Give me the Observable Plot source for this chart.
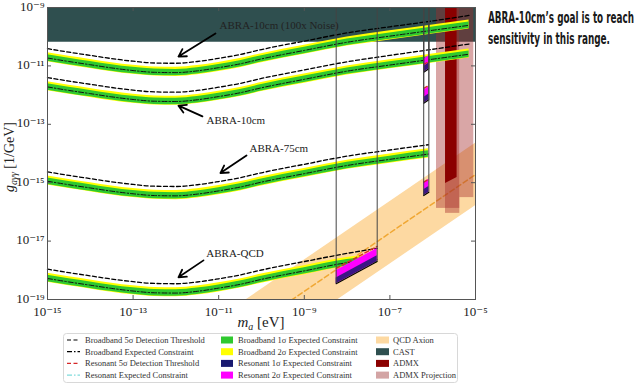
<!DOCTYPE html>
<html><head><meta charset="utf-8">
<script src="https://cdn.jsdelivr.net/npm/d3@7"></script>
<script src="https://cdn.jsdelivr.net/npm/@observablehq/plot@0.6"></script>
<style>
body{margin:0;background:#fff;}
#chart{width:640px;height:389px;}
</style></head><body><div id="chart"></div>
<script>
// ---------- data: log10 values ----------
// axis ticks (exponents)
const xTickExp = [-15, -13, -11, -9, -7, -5];
const yTickExp = [-19, -17, -15, -13, -11, -9];

// broadband curves: log10(m_a / eV) -> log10(g / GeV^-1)
const bbMassLong = [-15, -14.5, -14, -13.5, -13, -12.5, -12, -11.5, -11, -10.5, -10, -9, -8, -7, -6, -5.15];
const bb10cm100xConstraint = [-10.73, -10.85, -10.96, -11.07, -11.16, -11.22, -11.23, -11.17, -11.06, -10.93, -10.76, -10.47, -10.19, -9.98, -9.78, -9.61];
const bb10cm100xThreshold  = [-10.41, -10.53, -10.64, -10.75, -10.84, -10.90, -10.91, -10.85, -10.74, -10.61, -10.44, -10.15, -9.87, -9.66, -9.46, -9.27];
const bb10cmConstraint = [-11.72, -11.84, -11.95, -12.06, -12.15, -12.21, -12.22, -12.16, -12.05, -11.92, -11.75, -11.46, -11.18, -10.97, -10.77, -10.60];
const bb10cmThreshold  = [-11.40, -11.52, -11.63, -11.74, -11.83, -11.89, -11.90, -11.84, -11.73, -11.60, -11.43, -11.14, -10.86, -10.64, -10.43, -10.25];
const bbMass75cm = [-15, -14.5, -14, -13.5, -13, -12.5, -12, -11.5, -11, -10.5, -10, -9, -8, -7, -6.1];
const bb75cmConstraint = [-14.95, -15.07, -15.18, -15.29, -15.38, -15.44, -15.45, -15.39, -15.28, -15.15, -14.98, -14.69, -14.41, -14.20, -14.02];
const bb75cmThreshold  = [-14.63, -14.75, -14.86, -14.97, -15.06, -15.12, -15.13, -15.07, -14.96, -14.83, -14.66, -14.37, -14.09, -13.88, -13.70];
const bbMassQCD = [-15, -14.5, -14, -13.5, -13, -12.5, -12, -11.5, -11, -10.5, -10, -9, -8, -7.3];
const bbQCDConstraint = [-18.28, -18.40, -18.51, -18.62, -18.71, -18.77, -18.78, -18.72, -18.61, -18.48, -18.31, -18.02, -17.74, -17.63];
const bbQCDThreshold  = [-17.96, -18.08, -18.19, -18.30, -18.39, -18.45, -18.46, -18.40, -18.29, -18.16, -17.99, -17.70, -17.42, -17.25];
// band half-widths in decades (below, above)
const band1Sigma = [0.11, 0.11];
const band2Sigma = [0.13, 0.18];

// resonant regions
const resMass10cm = [-6.21, -6.09];
const res10cm100xConstraint = [-11.22, -11.10];
const res10cm100xThreshold  = [-10.95, -10.85];
const res10cmConstraint = [-12.28, -12.16];
const res10cmThreshold  = [-11.77, -11.67];
const res75cmConstraint = [-15.44, -15.33];
const res75cmThreshold  = [-14.98, -14.88];
const resMassQCD = [-8.255, -7.297];
const resQCDConstraint = [-18.46, -17.70];
const resQCDThreshold  = [-17.93, -17.18];
const resBand1Sigma = 0.2;
const resBand2Sigma = 0.45;

// existing limits / targets
const castMass = [-15, -5];
const castLimit = -10.19;
const qcdMass = [-11, -5];
const qcdCenter = [-20.72, -14.72];
const qcdUpper = [-19.65, -13.65];
const qcdLower = [-21.79, -15.79];
const admxMass = [-5.70, -5.43];
const admxLimit = [-15.03, -14.82];
const admxProjMassLo = [-5.911, -5.701, -5.367];
const admxProjMassHi = [-5.367, -5.367, -5.04];
const admxProjLimit = [-15.88, -16.05, -15.51];
const topCoupling = -9;

// annotations
const annLabels = ["ABRA-10cm (100x Noise)", "ABRA-10cm", "ABRA-75cm", "ABRA-QCD"];
const annTextMass = [-10.98, -11.285, -10.28, -11.29];
const annTextCoupling = [-9.62, -12.87, -13.82, -17.42];
const annArrowFromMass = [-11.075, -11.38, -10.35, -11.355];
const annArrowFromCoupling = [-9.89, -12.73, -14.07, -17.66];
const annArrowToMass = [-11.94, -11.94, -10.96, -11.94];
const annArrowToCoupling = [-10.68, -12.36, -14.67, -18.24];

// legend
const legendLineLabels = ["Broadband 5σ Detection Threshold", "Broadband Expected Constraint", "Resonant 5σ Detection Threshold", "Resonant Expected Constraint"];
const legendBandLabels = ["Broadband 1σ Expected Constraint", "Broadband 2σ Expected Constraint", "Resonant 1σ Expected Constraint", "Resonant 2σ Expected Constraint"];
const legendRegionLabels = ["QCD Axion", "CAST", "ADMX", "ADMX Projection"];
const sideNote = ["ABRA-10cm’s goal is to reach", "sensitivity in this range."];

// ---------- styles ----------
const C = {
  green: "#2fc92f", yellow: "#ffff00", navy: "#191970", magenta: "#ff00ff",
  qcd: "#fdd9a2", qcdLine: "#f0a733", cast: "#2f4f4f", admx: "#8b0000", admxProj: "#a52a2a",
  resThr: "#d62728", resExp: "#7fdbdb", frame: "#555"
};
const lineStyles = [
  {stroke: "black", dash: "4,2.5"}, {stroke: "black", dash: "5,2,1.5,2"},
  {stroke: C.resThr, dash: "4,2.5"}, {stroke: C.resExp, dash: "5,2,1.5,2"}
];
const bandColors = [C.green, C.yellow, C.navy, C.magenta];
const regionColors = [C.qcd, C.cast, C.admx, "#d3a4a4"];

const supMap = {"-": "⁻", "0": "⁰", "1": "¹", "2": "²", "3": "³", "4": "⁴", "5": "⁵", "6": "⁶", "7": "⁷", "8": "⁸", "9": "⁹"};
const fmtExp = e => "10" + String(e).split("").map(c => supMap[c]).join("");
const P = v => 10 ** v;

// ---------- build rows ----------
const broadband = [
  {s: "100x", mass: bbMassLong, c: bb10cm100xConstraint, t: bb10cm100xThreshold},
  {s: "10cm", mass: bbMassLong, c: bb10cmConstraint, t: bb10cmThreshold},
  {s: "75cm", mass: bbMass75cm, c: bb75cmConstraint, t: bb75cmThreshold},
  {s: "qcd", mass: bbMassQCD, c: bbQCDConstraint, t: bbQCDThreshold}
];
const bbRows = broadband.flatMap(b => b.mass.map((lm, i) => ({s: b.s, m: P(lm), c: b.c[i], t: b.t[i]})));

const resonant = [
  {s: "100x", mass: resMass10cm, c: res10cm100xConstraint, t: res10cm100xThreshold},
  {s: "10cm", mass: resMass10cm, c: res10cmConstraint, t: res10cmThreshold},
  {s: "75cm", mass: resMass10cm, c: res75cmConstraint, t: res75cmThreshold},
  {s: "qcd", mass: resMassQCD, c: resQCDConstraint, t: resQCDThreshold}
];
const resRows = resonant.flatMap(r => r.mass.map((lm, i) => ({s: r.s, m: P(lm), c: r.c[i], t: r.t[i]})));

const qcdRows = qcdMass.map((lm, i) => ({m: P(lm), c: qcdCenter[i], u: qcdUpper[i], l: qcdLower[i]}));
const admxRows = admxMass.map((lm, i) => ({m: P(lm), g: admxLimit[i]}));
const projRows = admxProjLimit.map((g, i) => ({m1: P(admxProjMassLo[i]), m2: P(admxProjMassHi[i]), g}));
const castRows = [{m1: P(castMass[0]), m2: P(castMass[1]), g: castLimit}];
const annRows = annLabels.map((label, i) => ({
  label, tm: P(annTextMass[i]), tg: P(annTextCoupling[i]),
  m1: P(annArrowFromMass[i]), g1: P(annArrowFromCoupling[i]),
  m2: P(annArrowToMass[i]), g2: P(annArrowToCoupling[i])
}));

// ---------- layout ----------
const W = 640, H = 389, mL = 47, mR = 165, mT = 7, mB = 90;
const fw = W - mL - mR, fh = H - mT - mB, tick = 4;
const serif = "'Liberation Serif', 'DejaVu Serif', serif";

const chart = Plot.plot({
  width: W, height: H, marginLeft: mL, marginRight: mR, marginTop: mT, marginBottom: mB,
  style: {fontFamily: serif, background: "white", color: "#222"},
  x: {type: "log", domain: [P(xTickExp[0]), P(xTickExp[xTickExp.length - 1])], axis: null},
  y: {type: "log", domain: [P(yTickExp[0]), P(yTickExp[yTickExp.length - 1])], axis: null},
  marks: [
    // QCD axion band
    Plot.areaY(qcdRows, {x: "m", y1: d => P(d.l), y2: d => P(d.u), fill: C.qcd, clip: true}),
    Plot.line(qcdRows, {x: "m", y: d => P(d.c), stroke: C.qcdLine, strokeWidth: 1.5, strokeDasharray: "5,3", clip: true}),
    // CAST
    Plot.rect(castRows, {x1: "m1", x2: "m2", y1: d => P(d.g), y2: P(topCoupling), fill: C.cast}),
    // ADMX projection
    Plot.rect(projRows, {x1: "m1", x2: "m2", y1: d => P(d.g), y2: P(topCoupling), fill: C.admxProj, fillOpacity: 0.42}),
    // ADMX
    Plot.areaY(admxRows, {x: "m", y1: d => P(d.g), y2: P(topCoupling), fill: C.admx}),
    // broadband bands and lines
    Plot.areaY(bbRows, {x: "m", y1: d => P(d.c - band2Sigma[0]), y2: d => P(d.c + band2Sigma[1]), z: "s", fill: C.yellow, curve: "monotone-x"}),
    Plot.areaY(bbRows, {x: "m", y1: d => P(d.c - band1Sigma[0]), y2: d => P(d.c + band1Sigma[1]), z: "s", fill: C.green, curve: "monotone-x"}),
    Plot.line(bbRows, {x: "m", y: d => P(d.c), z: "s", stroke: "#111", strokeWidth: 1, strokeDasharray: "5,2,1.5,2", curve: "monotone-x"}),
    Plot.line(bbRows, {x: "m", y: d => P(d.t), z: "s", stroke: "black", strokeWidth: 1.3, strokeDasharray: "4,2.5", curve: "monotone-x"}),
    // resonant regions
    Plot.areaY(resRows, {x: "m", y1: d => P(d.c), y2: d => P(d.c + resBand2Sigma), z: "s", fill: C.magenta}),
    Plot.areaY(resRows, {x: "m", y1: d => P(d.c), y2: d => P(d.c + resBand1Sigma), z: "s", fill: C.navy, fillOpacity: 0.85}),
    Plot.line(resRows, {x: "m", y: d => P(d.t), z: "s", stroke: C.resThr, strokeWidth: 1.3, strokeDasharray: "4,2.5"}),
    Plot.line(resRows, {x: "m", y: d => P(d.c), z: "s", stroke: "black", strokeWidth: 1.2}),
    Plot.ruleX(resRows, {x: "m", y1: d => P(d.c), y2: P(topCoupling), stroke: "#444", strokeWidth: 1}),
    // annotations
    Plot.arrow(annRows, {x1: "m1", y1: "g1", x2: "m2", y2: "g2", stroke: "black", strokeWidth: 1.8, headLength: 7}),
    Plot.text(annRows, {x: "tm", y: "tg", text: "label", textAnchor: "start", fontSize: 11, fill: "#222"}),
    // frame + inward ticks
    Plot.frame({stroke: C.frame}),
    Plot.ruleX(xTickExp, {x: P, insetTop: fh - tick, stroke: C.frame}),
    Plot.ruleX(xTickExp, {x: P, insetBottom: fh - tick, stroke: C.frame}),
    Plot.ruleY(yTickExp, {y: P, insetRight: fw - tick, stroke: C.frame}),
    Plot.ruleY(yTickExp, {y: P, insetLeft: fw - tick, stroke: C.frame}),
    // tick labels
    Plot.text(xTickExp, {x: P, frameAnchor: "bottom", dy: 16, text: fmtExp, fontSize: 13, fill: "#222"}),
    Plot.text(yTickExp, {y: P, frameAnchor: "left", dx: -3, dy: -1, textAnchor: "end", text: fmtExp, fontSize: 13, fill: "#222"})
  ]
});
document.getElementById("chart").appendChild(chart);

// ---------- axis labels, side note and legend (real SVG text) ----------
const svg = d3.select(chart);
const yl = svg.append("text").attr("transform", `translate(14,${mT + fh / 2 + 4}) rotate(-90)`)
  .attr("text-anchor", "middle").attr("font-family", serif).attr("font-size", 14).attr("fill", "#222");
yl.append("tspan").attr("font-style", "italic").text("g");
yl.append("tspan").attr("font-size", 10).attr("dy", 3).attr("font-style", "italic").text("aγγ");
yl.append("tspan").attr("dy", -3).text(" [1/GeV]");

const xl = svg.append("text").attr("x", mL + fw / 2).attr("y", mT + fh + 28)
  .attr("text-anchor", "middle").attr("font-family", serif).attr("font-size", 15).attr("fill", "#222");
xl.append("tspan").attr("font-style", "italic").text("m");
xl.append("tspan").attr("font-size", 10).attr("dy", 3).attr("font-style", "italic").text("a");
xl.append("tspan").attr("dy", -3).text(" [eV]");

// condensed side note: horizontally squeezed text that keeps its real glyphs
const noteWidths = [146, 122];
const squeeze = 0.62;
sideNote.forEach((line, i) => {
  svg.append("text").attr("transform", `translate(488,${23 + i * 21}) scale(${squeeze},1)`)
    .attr("x", 0).attr("y", 0).attr("text-anchor", "start")
    .attr("font-family", "'Liberation Sans Narrow', 'DejaVu Sans Condensed', 'Roboto', sans-serif")
    .attr("font-size", 16).attr("font-weight", 600).attr("fill", "#1a1a1a")
    .attr("textLength", noteWidths[i] / squeeze).attr("lengthAdjust", "spacingAndGlyphs").text(line);
});

const lg = svg.append("g").attr("font-family", serif).attr("font-size", 8.5).attr("fill", "#333").attr("text-anchor", "start");
lg.append("rect").attr("x", 63.5).attr("y", 333.5).attr("width", 394).attr("height", 49)
  .attr("rx", 3).attr("fill", "white").attr("stroke", "#d8d8d8");
const rowY = i => 340 + i * 11.7;
legendLineLabels.forEach((lab, i) => {
  lg.append("line").attr("x1", 67).attr("x2", 80).attr("y1", rowY(i)).attr("y2", rowY(i))
    .attr("stroke", lineStyles[i].stroke).attr("stroke-width", 1.2).attr("stroke-dasharray", lineStyles[i].dash);
  lg.append("text").attr("x", 85).attr("y", rowY(i)).attr("dy", "0.35em").text(lab);
});
legendBandLabels.forEach((lab, i) => {
  lg.append("rect").attr("x", 221).attr("y", rowY(i) - 3.5).attr("width", 12).attr("height", 7).attr("fill", bandColors[i]);
  lg.append("text").attr("x", 238).attr("y", rowY(i)).attr("dy", "0.35em").text(lab);
});
legendRegionLabels.forEach((lab, i) => {
  lg.append("rect").attr("x", 376).attr("y", rowY(i) - 3.5).attr("width", 13).attr("height", 7).attr("fill", regionColors[i]);
  lg.append("text").attr("x", 393).attr("y", rowY(i)).attr("dy", "0.35em").text(lab);
});
</script></body></html>
